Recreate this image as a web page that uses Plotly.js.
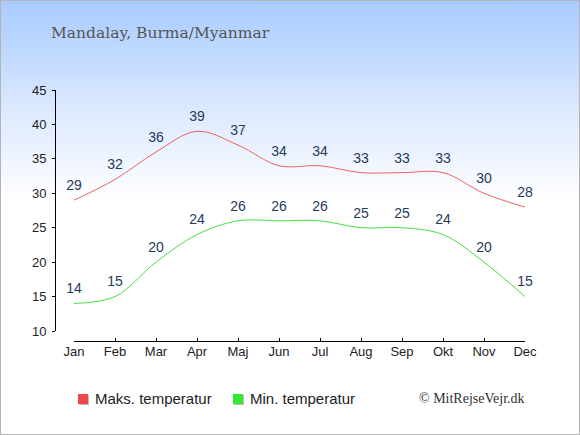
<!DOCTYPE html>
<html>
<head>
<meta charset="utf-8">
<script src="https://cdn.plot.ly/plotly-3.0.1.min.js"></script>
<style>
  html, body { margin: 0; padding: 0; }
  #wrap {
    position: relative; width: 580px; height: 435px; box-sizing: border-box;
    border: 1px solid #b4b4b4;
    background: linear-gradient(to bottom, #a8cbff 0px, #dce9ff 110px, #ffffff 200px, #ffffff 435px);
  }
  #chart { position: absolute; left: -1px; top: -1px; width: 580px; height: 435px; }
</style>
</head>
<body>
<div id="wrap"><div id="chart"></div></div>
<script>
const months = ["Jan","Feb","Mar","Apr","Maj","Jun","Jul","Aug","Sep","Okt","Nov","Dec"];
const maxTemp = [29, 32, 36, 39, 37, 34, 34, 33, 33, 33, 30, 28];
const minTemp = [14, 15, 20, 24, 26, 26, 26, 25, 25, 24, 20, 15];
const yTicks = [10, 15, 20, 25, 30, 35, 40, 45];
const seriesNames = ["Maks. temperatur", "Min. temperatur"];
const titleText = "Mandalay, Burma/Myanmar";
const creditText = "© MitRejseVejr.dk";

const redLine = "#f06262", greenLine = "#45e045";
const redBox = "#f04848", greenBox = "#33e833";
const labelColor = "#263a5e";

function series(vals, name, color) {
  return {
    x: months, y: vals, name: name, type: "scatter",
    mode: "lines+markers+text",
    line: { color: color, width: 1, shape: "spline", smoothing: 1 },
    marker: { size: 9, opacity: 0, color: color },
    text: vals.map(String), textposition: "top center",
    textfont: { family: "Liberation Sans, Arial, sans-serif", size: 14, color: labelColor },
    cliponaxis: false, hoverinfo: "skip", showlegend: false
  };
}

const data = [series(maxTemp, seriesNames[0], redLine), series(minTemp, seriesNames[1], greenLine)];

const W = 580, H = 435;
const px = (x) => x / W, py = (y) => 1 - y / H;

const layout = {
  width: W, height: H,
  margin: { l: 55, r: 55, t: 90, b: 94, pad: 0 },
  paper_bgcolor: "rgba(0,0,0,0)", plot_bgcolor: "rgba(0,0,0,0)",
  showlegend: false,
  title: {
    text: titleText, xref: "container", yref: "container",
    x: px(51), xanchor: "left", y: py(33), yanchor: "middle",
    font: { family: "DejaVu Serif, serif", size: 15.5, color: "#555555" }
  },
  xaxis: {
    type: "category", range: [0, 11], domain: [19/470, 1],
    anchor: "free", position: 0,
    showline: true, linecolor: "#000", linewidth: 1,
    ticks: "inside", ticklen: 3, tickcolor: "#000", tickwidth: 1,
    ticklabelstandoff: -2,
    showgrid: false, zeroline: false, fixedrange: true,
    tickfont: { family: "Liberation Sans, Arial, sans-serif", size: 13, color: "#222" }
  },
  yaxis: {
    range: [10, 45], tickvals: yTicks, ticktext: yTicks.map(String),
    domain: [10/251, 1], anchor: "free", position: 0,
    showline: true, linecolor: "#000", linewidth: 1,
    ticks: "outside", ticklen: 3, tickcolor: "#000",
    showgrid: false, zeroline: false, fixedrange: true,
    ticklabelstandoff: 3,
    tickfont: { family: "Liberation Sans, Arial, sans-serif", size: 13, color: "#222" }
  },
  shapes: [
    { type: "rect", xref: "paper", yref: "paper",
      x0: (79-55)/470, x1: (89-55)/470, y0: (341-405)/251, y1: (341-395)/251,
      line: { width: 0 }, fillcolor: "#bbbbbb" },
    { type: "rect", xref: "paper", yref: "paper",
      x0: (78-55)/470, x1: (88-55)/470, y0: (341-404)/251, y1: (341-394)/251,
      line: { width: 0 }, fillcolor: redBox },
    { type: "rect", xref: "paper", yref: "paper",
      x0: (234-55)/470, x1: (244-55)/470, y0: (341-405)/251, y1: (341-395)/251,
      line: { width: 0 }, fillcolor: "#bbbbbb" },
    { type: "rect", xref: "paper", yref: "paper",
      x0: (233-55)/470, x1: (243-55)/470, y0: (341-404)/251, y1: (341-394)/251,
      line: { width: 0 }, fillcolor: greenBox }
  ],
  annotations: [
    { text: seriesNames[0], xref: "paper", yref: "paper", x: (93-55)/470, y: (341-398)/251,
      xanchor: "left", yanchor: "middle", showarrow: false,
      font: { family: "Liberation Sans, Arial, sans-serif", size: 15, color: "#222" } },
    { text: seriesNames[1], xref: "paper", yref: "paper", x: (248-55)/470, y: (341-398)/251,
      xanchor: "left", yanchor: "middle", showarrow: false,
      font: { family: "Liberation Sans, Arial, sans-serif", size: 15, color: "#222" } },
    { text: creditText, xref: "paper", yref: "paper", x: (527-55)/470, y: (341-398)/251,
      xanchor: "right", yanchor: "middle", showarrow: false,
      font: { family: "Liberation Serif, Times New Roman, serif", size: 14, color: "#333" } }
  ]
};

Plotly.newPlot("chart", data, layout, { staticPlot: true, displayModeBar: false });
</script>
</body>
</html>
